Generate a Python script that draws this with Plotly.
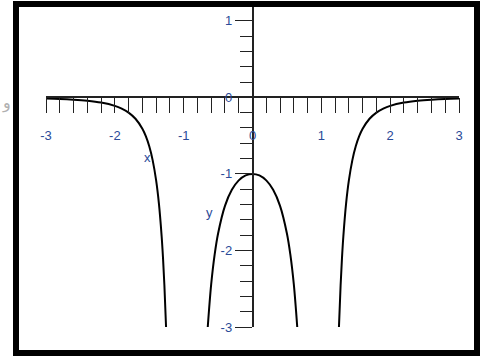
import plotly.graph_objects as go

# Sampled points of the curve, three branches (left, middle, right)
left_x = [-3.0, -2.8, -2.6, -2.4, -2.2, -2.0, -1.9, -1.8, -1.7, -1.6, -1.55, -1.5,
          -1.45, -1.4, -1.36, -1.32, -1.3, -1.28, -1.256]
left_y = [-0.016, -0.021, -0.030, -0.044, -0.068, -0.111, -0.147, -0.199, -0.280,
          -0.411, -0.508, -0.640, -0.823, -1.085, -1.385, -1.814, -2.100, -2.454, -3.0]

mid_x = [-0.65, -0.6, -0.55, -0.5, -0.4, -0.3, -0.2, -0.1, 0.0,
         0.1, 0.2, 0.3, 0.4, 0.5, 0.55, 0.6, 0.65]
mid_y = [-3.0, -2.441, -2.055, -1.778, -1.417, -1.208, -1.085, -1.020, -1.0,
         -1.020, -1.085, -1.208, -1.417, -1.778, -2.055, -2.441, -3.0]

right_x = [1.256, 1.28, 1.3, 1.32, 1.36, 1.4, 1.45, 1.5, 1.55, 1.6, 1.7, 1.8, 1.9,
           2.0, 2.2, 2.4, 2.6, 2.8, 3.0]
right_y = [-3.0, -2.454, -2.100, -1.814, -1.385, -1.085, -0.823, -0.640, -0.508,
           -0.411, -0.280, -0.199, -0.147, -0.111, -0.068, -0.044, -0.030, -0.021, -0.016]

x_ticks = [-3, -2, -1, 0, 1, 2, 3]
y_ticks = [-3, -2, -1, 0, 1]

X_RANGE = [-3, 3]
Y_RANGE = [-3, 1.18]

LABEL_BLUE = "#2a4a98"
FONT = "Liberation Sans, Arial, sans-serif"

fig = go.Figure()
for bx, by in [(left_x, left_y), (mid_x, mid_y), (right_x, right_y)]:
    fig.add_trace(go.Scatter(
        x=bx, y=by, mode="lines", line=dict(color="black", width=2, shape="spline"),
        showlegend=False, hoverinfo="skip", cliponaxis=True,
    ))

zero_frac_y = (0 - Y_RANGE[0]) / (Y_RANGE[1] - Y_RANGE[0])
zero_frac_x = (0 - X_RANGE[0]) / (X_RANGE[1] - X_RANGE[0])

fig.update_layout(
    width=487, height=356,
    margin=dict(l=46, r=28, t=7, b=29),
    paper_bgcolor="white", plot_bgcolor="white",
    font=dict(family=FONT, color=LABEL_BLUE, size=13),
    xaxis=dict(
        range=X_RANGE, anchor="free", position=zero_frac_y,
        showgrid=False, zeroline=False,
        showline=True, linecolor="#222", linewidth=1.5,
        tickmode="array", tickvals=x_ticks, ticktext=[str(v) for v in x_ticks],
        ticks="outside", ticklen=15, tickwidth=1.2, tickcolor="#222",
        minor=dict(dtick=0.2, tick0=0, ticks="outside", ticklen=15,
                   tickwidth=1.2, tickcolor="#222", showgrid=False),
        tickfont=dict(family=FONT, size=13, color=LABEL_BLUE),
        ticklabelstandoff=11,
        fixedrange=True,
    ),
    yaxis=dict(
        range=Y_RANGE, anchor="free", position=zero_frac_x, side="left",
        showgrid=False, zeroline=False,
        showline=True, linecolor="#222", linewidth=1.5,
        tickmode="array", tickvals=y_ticks, ticktext=[str(v) for v in y_ticks],
        ticks="outside", ticklen=17, tickwidth=1.2, tickcolor="#222",
        minor=dict(dtick=0.2, tick0=0, ticks="outside", ticklen=12,
                   tickwidth=1.2, tickcolor="#222", showgrid=False),
        tickfont=dict(family=FONT, size=13, color=LABEL_BLUE),
        fixedrange=True,
    ),
    annotations=[
        dict(x=-1.52, y=-0.78, xref="x", yref="y", text="x", showarrow=False,
             font=dict(family=FONT, size=13, color=LABEL_BLUE)),
        dict(x=-0.62, y=-1.51, xref="x", yref="y", text="y", showarrow=False,
             font=dict(family=FONT, size=13, color=LABEL_BLUE)),
        dict(x=-0.095, y=0.70, xref="paper", yref="paper", text="و", showarrow=False,
             xanchor="center", yanchor="middle",
             font=dict(family="DejaVu Sans, sans-serif", size=16, color="#b0b0b0")),
    ],
    shapes=[
        dict(type="rect", xref="paper", yref="paper",
             x0=(16 - 46) / 413, x1=(477 - 46) / 413,
             y0=(327 - 353) / 320, y1=(327 - 4) / 320,
             line=dict(color="black", width=6), fillcolor="rgba(0,0,0,0)", layer="above"),
    ],
)

fig.write_html("out.html")
